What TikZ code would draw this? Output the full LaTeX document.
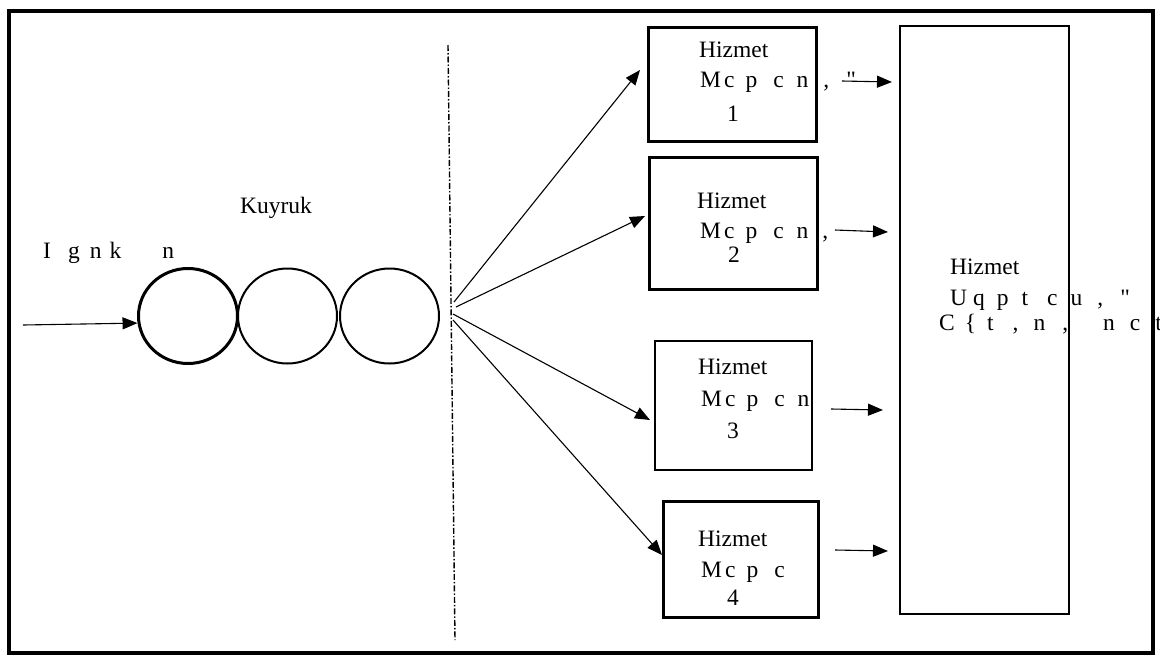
\documentclass[tikz,border=0pt]{standalone}
\usepackage{fontspec}
\setmainfont{Liberation Serif}[Ligatures=TeXOff]
\usetikzlibrary{arrows.meta,shapes.geometric}
\tikzset{
  txt/.style={anchor=base west,inner sep=0pt,font=\fontsize{23.5}{28}\selectfont},
  thickbox/.style={draw,line width=3pt,inner sep=0pt,outer sep=0pt},
  thinbox/.style={draw,line width=1.2pt,inner sep=0pt,outer sep=0pt},
  ball/.style={draw,ellipse,inner sep=0pt,minimum width=99pt,minimum height=95pt,line width=2pt},
  arr/.style={line width=1.1pt,-{Triangle[length=15pt,width=12pt]}},
  sep/.style={line width=1.4pt,dash pattern=on 6pt off 2pt on 1.5pt off 2pt}
}
\begin{document}
\begin{tikzpicture}[x=1pt,y=-1pt]
\useasboundingbox (0,0) rectangle (1160,662);
% outer frame
\node[draw,line width=3.5pt,inner sep=0pt,minimum width=1144pt,minimum height=642pt] (frame) at (581,332) {};
% queue
\node[ball,line width=3pt] (c1) at (188,316) {};
\node[ball] (c2) at (287.5,316) {};
\node[ball] (c3) at (389.5,316) {};
\coordinate (in) at (23,325);
\draw[arr] (in) -- (c1.188);
\node[txt] (kuy) at (240,213) {Kuyruk};
\node[txt] (ign) at (43,258) {I\hspace{17pt}g\hspace{10pt}n\hspace{8pt}k\hspace{41pt}n};
% separator
\coordinate (s1) at (448,45);
\coordinate (s2) at (455,640);
\draw[sep] (s1) -- (s2);
% servers
\node[thickbox,minimum width=168pt,minimum height=114pt] (b1) at (732,84) {};
\node[thickbox,minimum width=168pt,minimum height=132pt] (b2) at (733,223) {};
\node[thinbox,minimum width=157pt,minimum height=129pt] (b3) at (733.5,405.5) {};
\node[thickbox,minimum width=155pt,minimum height=116pt] (b4) at (740.5,559) {};
\node[thinbox,minimum width=169pt,minimum height=588pt] (big) at (984.5,320) {};
% fan arrows
\coordinate (f1) at (454,302);
\coordinate (f2) at (456,307);
\coordinate (f3) at (453,314);
\coordinate (f4) at (453,320);
\coordinate (t1) at (640,70);
\coordinate (t2) at (645,216);
\coordinate (t3) at (650,420);
\coordinate (t4) at (662,555);
\draw[arr] (f1) -- (t1);
\draw[arr] (f2) -- (t2);
\draw[arr] (f3) -- (t3);
\draw[arr] (f4) -- (t4);
% right arrows
\coordinate (r1a) at (842,81);  \coordinate (r1b) at (892,82);
\coordinate (r2a) at (835,230); \coordinate (r2b) at (888,232);
\coordinate (r3a) at (831,409); \coordinate (r3b) at (883,410);
\coordinate (r4a) at (835,550); \coordinate (r4b) at (888,551);
\draw[arr] (r1a) -- (r1b);
\draw[arr] (r2a) -- (r2b);
\draw[arr] (r3a) -- (r3b);
\draw[arr] (r4a) -- (r4b);
% box texts
\node[txt] (h1) at (699,57) {Hizmet};
\node[txt] (m1) at (700,87) {M\hspace{3pt}c\hspace{11pt}p\hspace{16pt}c\hspace{13pt}n\hspace{15pt},\hspace{17pt}"};
\node[txt] (n1) at (727,121) {1};
\node[txt] (h2) at (697,208) {Hizmet};
\node[txt] (m2) at (700,238) {M\hspace{3pt}c\hspace{11pt}p\hspace{16pt}c\hspace{13pt}n\hspace{14pt},};
\node[txt] (n2) at (728,262) {2};
\node[txt] (h3) at (698,374) {Hizmet};
\node[txt] (m3) at (701,406) {M\hspace{3pt}c\hspace{11pt}p\hspace{16pt}c\hspace{13pt}n};
\node[txt] (n3) at (727,438) {3};
\node[txt] (h4) at (698,546) {Hizmet};
\node[txt] (m4) at (701,577) {M\hspace{3pt}c\hspace{11pt}p\hspace{16pt}c};
\node[txt] (n4) at (727,605) {4};
% big box text
\node[txt] (hb) at (950,274) {Hizmet};
\node[txt] (ub) at (950,305) {U\hspace{6pt}q\hspace{12pt}p\hspace{13pt}t\hspace{19pt}c\hspace{13pt}u\hspace{15pt},\hspace{17pt}"};
\node[txt] (cb) at (939,330) {C\hspace{10pt}\{\hspace{11pt}t\hspace{19pt},\hspace{15pt}n\hspace{17pt},\hspace{35pt}n\hspace{15pt}c\hspace{15pt}t};
\end{tikzpicture}
\end{document}
